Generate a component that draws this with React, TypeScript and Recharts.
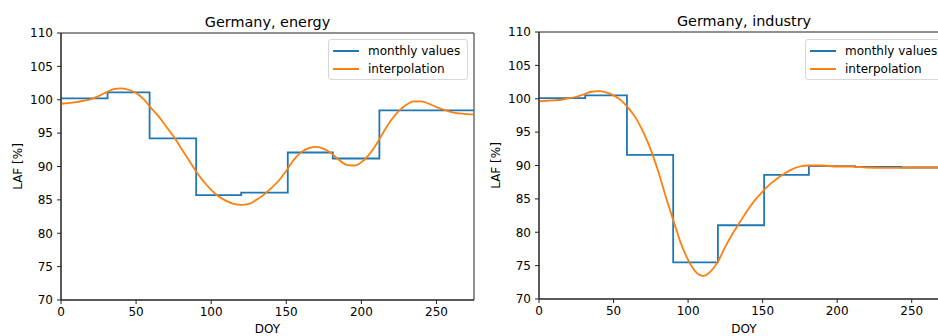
import React from 'react';
import { LineChart, Line, XAxis, YAxis, ReferenceArea, Legend } from 'recharts';

// ---- Data ----
const xTicks = [0, 50, 100, 150, 200, 250];
const yTicks = [70, 75, 80, 85, 90, 95, 100, 105, 110];

// Monthly values (step starts at day of year)
const energyMonthly = [
  { doy: 0, laf: 100.2 },
  { doy: 31, laf: 101.1 },
  { doy: 59, laf: 94.2 },
  { doy: 90, laf: 85.7 },
  { doy: 120, laf: 86.1 },
  { doy: 151, laf: 92.1 },
  { doy: 181, laf: 91.2 },
  { doy: 212, laf: 98.4 },
  { doy: 243, laf: 98.4 },
  { doy: 275, laf: 98.4 },
];

const energyInterp = [
  { doy: 0, laf: 99.4 }, { doy: 5, laf: 99.5 }, { doy: 10, laf: 99.65 }, { doy: 15, laf: 99.85 },
  { doy: 20, laf: 100.1 }, { doy: 25, laf: 100.55 }, { doy: 30, laf: 101.1 }, { doy: 35, laf: 101.6 },
  { doy: 40, laf: 101.7 }, { doy: 45, laf: 101.5 }, { doy: 50, laf: 101.0 }, { doy: 55, laf: 100.1 },
  { doy: 60, laf: 98.75 }, { doy: 65, laf: 97.5 }, { doy: 70, laf: 96.0 }, { doy: 75, laf: 94.5 },
  { doy: 80, laf: 92.75 }, { doy: 85, laf: 91.0 }, { doy: 90, laf: 89.25 }, { doy: 95, laf: 87.75 },
  { doy: 100, laf: 86.5 }, { doy: 105, laf: 85.5 }, { doy: 110, laf: 84.85 }, { doy: 115, laf: 84.4 },
  { doy: 120, laf: 84.25 }, { doy: 125, laf: 84.4 }, { doy: 130, laf: 85.0 }, { doy: 135, laf: 85.75 },
  { doy: 140, laf: 86.75 }, { doy: 145, laf: 87.9 }, { doy: 150, laf: 89.35 }, { doy: 155, laf: 91.0 },
  { doy: 160, laf: 92.15 }, { doy: 165, laf: 92.75 }, { doy: 170, laf: 92.95 }, { doy: 175, laf: 92.65 },
  { doy: 180, laf: 92.0 }, { doy: 185, laf: 91.0 }, { doy: 190, laf: 90.25 }, { doy: 195, laf: 90.15 },
  { doy: 200, laf: 90.65 }, { doy: 205, laf: 91.75 }, { doy: 210, laf: 93.35 }, { doy: 215, laf: 95.25 },
  { doy: 220, laf: 97.0 }, { doy: 225, laf: 98.35 }, { doy: 230, laf: 99.25 }, { doy: 235, laf: 99.75 },
  { doy: 240, laf: 99.75 }, { doy: 245, laf: 99.4 }, { doy: 250, laf: 98.9 }, { doy: 255, laf: 98.5 },
  { doy: 260, laf: 98.15 }, { doy: 265, laf: 97.95 }, { doy: 270, laf: 97.85 }, { doy: 275, laf: 97.8 },
];

const industryMonthly = [
  { doy: 0, laf: 100.1 },
  { doy: 31, laf: 100.5 },
  { doy: 59, laf: 91.6 },
  { doy: 90, laf: 75.5 },
  { doy: 120, laf: 81.05 },
  { doy: 151, laf: 88.6 },
  { doy: 181, laf: 89.9 },
  { doy: 212, laf: 89.8 },
  { doy: 243, laf: 89.7 },
  { doy: 275, laf: 89.7 },
];

const industryInterp = [
  { doy: 0, laf: 99.65 }, { doy: 5, laf: 99.7 }, { doy: 10, laf: 99.75 }, { doy: 15, laf: 99.85 },
  { doy: 20, laf: 100.05 }, { doy: 25, laf: 100.3 }, { doy: 30, laf: 100.65 }, { doy: 35, laf: 101.05 },
  { doy: 40, laf: 101.15 }, { doy: 45, laf: 100.95 }, { doy: 50, laf: 100.5 }, { doy: 55, laf: 99.75 },
  { doy: 60, laf: 98.6 }, { doy: 65, laf: 97.1 }, { doy: 70, laf: 94.95 }, { doy: 75, laf: 92.35 },
  { doy: 80, laf: 89.1 }, { doy: 85, laf: 85.35 }, { doy: 90, laf: 81.85 }, { doy: 95, laf: 78.45 },
  { doy: 100, laf: 75.85 }, { doy: 105, laf: 74.1 }, { doy: 110, laf: 73.45 }, { doy: 115, laf: 74.1 },
  { doy: 120, laf: 75.6 }, { doy: 125, laf: 77.85 }, { doy: 130, laf: 79.85 }, { doy: 135, laf: 81.6 },
  { doy: 140, laf: 83.35 }, { doy: 145, laf: 84.85 }, { doy: 150, laf: 86.1 }, { doy: 155, laf: 87.2 },
  { doy: 160, laf: 88.1 }, { doy: 165, laf: 88.85 }, { doy: 170, laf: 89.45 }, { doy: 175, laf: 89.85 },
  { doy: 180, laf: 90.0 }, { doy: 190, laf: 90.0 }, { doy: 200, laf: 89.85 }, { doy: 210, laf: 89.85 },
  { doy: 220, laf: 89.7 }, { doy: 230, laf: 89.65 }, { doy: 240, laf: 89.65 }, { doy: 250, laf: 89.7 },
  { doy: 260, laf: 89.7 }, { doy: 275, laf: 89.7 },
];

const BLUE = '#1f77b4';
const ORANGE = '#ff7f0e';
const FONT = '"DejaVu Sans", sans-serif';
const AXIS = '#222';

const LegendBox = () => (
  <div
    style={{
      position: 'relative',
      boxSizing: 'border-box',
      width: 140,
      height: 41,
      border: '1px solid #d6d6d6',
      borderRadius: 3,
      background: 'rgba(255,255,255,0.85)',
      fontFamily: FONT,
      fontSize: 12,
      color: '#000',
    }}
  >
    {[
      { name: 'monthly values', color: BLUE, y: 11 },
      { name: 'interpolation', color: ORANGE, y: 29 },
    ].map((e) => (
      <div key={e.name}>
        <div
          style={{
            position: 'absolute',
            left: 4,
            top: e.y - 1,
            width: 26,
            height: 2,
            background: e.color,
          }}
        />
        <div
          style={{
            position: 'absolute',
            left: 39,
            top: e.y - 8,
            lineHeight: '16px',
            whiteSpace: 'nowrap',
          }}
        >
          {e.name}
        </div>
      </div>
    ))}
  </div>
);

type PanelProps = {
  title: string;
  monthly: { doy: number; laf: number }[];
  interp: { doy: number; laf: number }[];
  marginTop: number;
  marginLeft: number;
  marginRight: number;
  xAxisHeight: number;
  legendLeft: number;
  yLabelX: number;
};

const Panel = ({ title, monthly, interp, marginTop, marginLeft, marginRight, xAxisHeight, legendLeft, yLabelX }: PanelProps) => {
  const H = 336;
  const plotTop = marginTop;
  const plotBottom = H - xAxisHeight;
  const midY = (plotTop + plotBottom) / 2;
  return (
    <LineChart
      width={480}
      height={H}
      margin={{ top: marginTop, right: marginRight, bottom: 0, left: marginLeft }}
      style={{ fontFamily: FONT }}
    >
      <XAxis
        dataKey="doy"
        type="number"
        domain={[0, 275]}
        allowDataOverflow
        ticks={xTicks}
        height={xAxisHeight}
        tickSize={4}
        tickMargin={3}
        axisLine={{ stroke: AXIS }}
        tickLine={{ stroke: AXIS }}
        tick={{ fill: '#000', fontSize: 12, fontFamily: FONT }}
        label={{ value: 'DOY', position: 'insideBottom', offset: 3, fill: '#000', fontSize: 12, fontFamily: FONT }}
      />
      <YAxis
        type="number"
        domain={[70, 110]}
        allowDataOverflow
        ticks={yTicks}
        width={50}
        tickSize={4}
        tickMargin={4}
        axisLine={{ stroke: AXIS }}
        tickLine={{ stroke: AXIS }}
        tick={{ fill: '#000', fontSize: 12, fontFamily: FONT }}
        label={{
          content: () => (
            <text
              x={yLabelX}
              y={midY}
              transform={`rotate(-90 ${yLabelX} ${midY})`}
              textAnchor="middle"
              dominantBaseline="central"
              fill="#000"
              fontSize={12}
              fontFamily={FONT}
            >
              LAF [%]
            </text>
          ),
        }}
      />
      <ReferenceArea
        x1={0}
        x2={275}
        y1={70}
        y2={110}
        fill="none"
        fillOpacity={0}
        stroke={AXIS}
        strokeWidth={1}
        label={{ value: title, position: 'top', offset: 6, fill: '#000', fontSize: 14.4, fontFamily: FONT }}
      />
      <Line
        data={monthly}
        dataKey="laf"
        name="monthly values"
        type="stepAfter"
        stroke={BLUE}
        strokeWidth={1.8}
        dot={false}
        activeDot={false}
        isAnimationActive={false}
      />
      <Line
        data={interp}
        dataKey="laf"
        name="interpolation"
        type="monotone"
        stroke={ORANGE}
        strokeWidth={1.8}
        dot={false}
        activeDot={false}
        isAnimationActive={false}
      />
      <Legend
        layout="vertical"
        align="center"
        verticalAlign="middle"
        content={() => <LegendBox />}
        wrapperStyle={{ left: legendLeft, top: 39, width: 140, height: 41 }}
      />
    </LineChart>
  );
};

export default function App() {
  return (
    <div
      style={{
        position: 'absolute',
        left: 0,
        top: 0,
        width: 938,
        height: 336,
        overflow: 'hidden',
        background: '#fff',
      }}
    >
      <div style={{ position: 'absolute', left: 0, top: 0 }}>
        <Panel
          title="Germany, energy"
          monthly={energyMonthly}
          interp={energyInterp}
          marginTop={33}
          marginLeft={11}
          marginRight={6}
          xAxisHeight={36}
          legendLeft={328}
          yLabelX={18}
        />
      </div>
      <div style={{ position: 'absolute', left: 480, top: 0 }}>
        <Panel
          title="Germany, industry"
          monthly={industryMonthly}
          interp={industryInterp}
          marginTop={32}
          marginLeft={9}
          marginRight={11}
          xAxisHeight={37}
          legendLeft={325}
          yLabelX={16}
        />
      </div>
    </div>
  );
}
